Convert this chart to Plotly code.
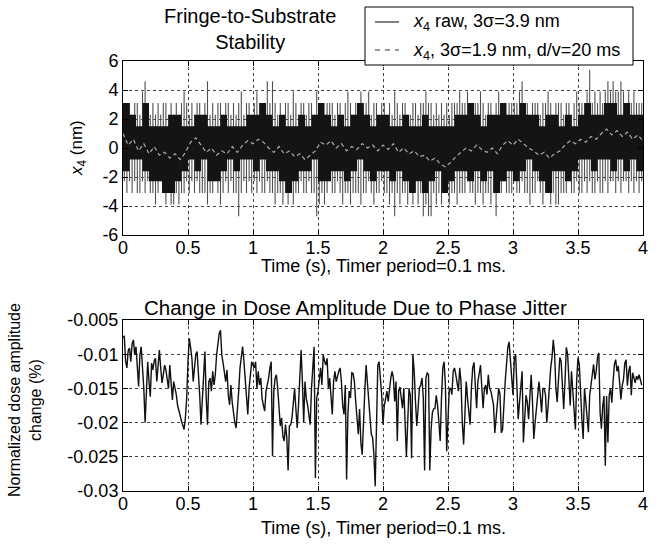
import numpy as np
import plotly.graph_objects as go

# ---------------- data ----------------
# Top panel: raw x4 trace (quantised, nm). Dense core envelope per 0.05 s bin
core_hi = [3.1,2.3,1.5,3.1,1.5,1.5,1.5,2.3,2.3,1.5,
           1.5,2.3,2.3,1.5,1.5,2.3,1.5,1.5,1.5,2.3,
           2.3,3.1,2.3,1.5,2.3,1.5,1.5,2.3,1.5,2.3,
           3.1,2.3,1.5,2.3,1.5,2.3,3.1,2.3,1.5,2.3,
           2.3,1.5,1.5,2.3,1.5,1.5,2.3,1.5,1.5,1.5,
           1.5,2.3,2.3,3.1,2.3,1.5,2.3,2.3,3.1,2.3,
           2.3,3.1,2.3,2.3,1.5,2.3,2.3,1.5,2.3,1.5,
           2.3,3.1,2.3,2.3,3.1,3.1,2.3,3.1,2.3,2.3]
core_lo = [-1.6,-0.8,-0.8,-1.6,-2.3,-2.3,-3.1,-3.1,-2.3,-1.6,
           -0.8,-1.6,-0.8,-2.3,-2.3,-1.6,-0.8,-1.6,-0.8,-0.8,
           -1.6,-0.8,-1.6,-1.6,-2.3,-3.1,-2.3,-1.6,-1.6,-0.8,
           -2.3,-2.3,-1.6,-1.6,-2.3,-1.6,-0.8,-1.6,-2.3,-1.6,
           -1.6,-2.3,-1.6,-2.3,-3.1,-2.3,-3.1,-2.3,-1.6,-3.1,
           -2.3,-1.6,-1.6,-2.3,-1.6,-2.3,-1.6,-3.1,-2.3,-1.6,
           -2.3,-1.6,-0.8,-1.6,-2.3,-3.1,-1.6,-1.6,-2.3,-1.6,
           -0.8,-0.8,-1.6,-0.8,-0.8,-1.6,-0.8,-1.6,-0.8,-1.6]

# Extremes of the raw trace per 0.02 s bin (isolated spikes)
spike_hi = [3.1,2.3,3.1,2.3,3.1,3.1,2.3,3.9,4.6,3.1,
            2.3,3.1,2.3,3.1,2.3,3.1,3.1,2.3,3.1,2.3,
            3.1,2.3,3.1,3.9,3.1,2.3,3.1,2.3,3.1,3.1,
            2.3,3.1,4.6,2.3,3.1,2.3,3.1,3.1,2.3,3.1,
            3.1,2.3,3.1,2.3,3.1,3.9,2.3,3.1,3.1,2.3,
            3.1,3.9,3.1,2.3,3.1,4.6,3.1,4.6,3.1,2.3,
            3.1,2.3,3.1,3.1,2.3,3.9,3.1,2.3,3.1,3.1,
            2.3,3.1,3.1,2.3,3.9,3.1,3.1,2.3,3.1,3.1,
            3.1,2.3,3.1,3.1,2.3,3.1,3.9,3.1,2.3,3.1,
            3.1,3.9,3.1,3.1,3.9,2.3,3.1,3.1,2.3,3.1,
            3.1,2.3,3.1,2.3,3.9,3.1,2.3,3.1,3.1,2.3,
            2.3,3.1,3.1,2.3,3.1,3.1,3.9,3.1,3.1,2.3,
            3.1,2.3,3.1,2.3,3.1,2.3,3.1,3.1,3.1,3.9,
            3.1,3.1,3.9,3.1,2.3,3.1,3.1,3.9,3.1,2.3,
            3.1,3.1,2.3,3.1,3.9,3.1,3.1,2.3,3.1,3.1,
            3.1,3.1,3.9,4.6,3.1,3.1,2.3,3.1,3.1,3.1,
            2.3,3.1,3.1,3.9,3.1,2.3,3.1,3.1,3.1,2.3,
            3.1,3.1,2.3,3.1,3.9,3.1,3.1,3.1,3.9,5.4,
            3.1,3.9,3.1,3.9,3.1,3.9,4.6,3.9,4.6,3.9,
            3.9,4.6,3.9,3.1,3.9,3.1,3.9,3.1,3.1,3.1]
spike_lo = [-2.3,-3.1,-2.3,-3.1,-2.3,-3.1,-3.1,-2.3,-3.1,-2.3,
            -3.1,-3.1,-3.9,-3.1,-2.3,-3.1,-3.9,-3.1,-3.9,-3.9,
            -3.1,-3.9,-3.1,-3.1,-2.3,-3.1,-2.3,-3.1,-2.3,-3.1,
            -3.1,-3.1,-3.9,-3.1,-3.1,-2.3,-3.1,-3.9,-3.1,-2.3,
            -3.1,-2.3,-3.1,-3.1,-4.7,-3.1,-2.3,-3.1,-2.3,-3.1,
            -2.3,-3.1,-2.3,-3.1,-3.1,-2.3,-3.1,-3.1,-3.9,-3.1,
            -3.1,-3.9,-3.1,-3.9,-3.1,-3.9,-3.1,-3.1,-2.3,-3.1,
            -3.1,-2.3,-3.1,-3.1,-4.7,-3.9,-3.1,-3.9,-3.1,-2.3,
            -3.1,-3.1,-2.3,-3.1,-3.9,-3.1,-3.1,-3.9,-3.1,-3.1,
            -3.1,-3.9,-3.1,-3.1,-2.3,-3.1,-3.9,-3.1,-3.1,-2.3,
            -3.1,-3.1,-3.9,-3.1,-4.7,-3.1,-3.9,-3.1,-3.1,-3.9,
            -3.1,-3.9,-3.1,-3.9,-3.1,-4.7,-3.9,-4.7,-4.7,-3.1,
            -3.9,-3.1,-3.9,-3.1,-3.1,-3.9,-3.1,-3.1,-3.9,-3.1,
            -3.1,-3.1,-2.3,-3.1,-3.1,-3.9,-3.1,-3.1,-3.9,-3.1,
            -3.1,-3.9,-3.1,-4.7,-3.1,-3.1,-2.3,-3.1,-3.1,-3.1,
            -2.3,-3.1,-3.1,-2.3,-3.1,-3.1,-3.9,-3.1,-3.1,-2.3,
            -3.1,-3.9,-3.1,-3.1,-3.9,-3.1,-3.9,-3.9,-3.1,-3.1,
            -3.1,-2.3,-3.1,-3.1,-2.3,-3.1,-3.1,-2.3,-3.1,-2.3,
            -3.1,-3.1,-2.3,-3.1,-3.1,-2.3,-3.1,-2.3,-2.3,-3.1,
            -2.3,-3.1,-2.3,-2.3,-3.1,-2.3,-3.1,-2.3,-3.1,-2.3]

# Filtered x4 (d/v = 20 ms), every 0.04 s
x4_filt = [1.0,0.2,0.6,-0.2,0.3,-0.4,0.1,-0.5,-0.3,-0.7,
           -0.4,-0.8,-0.3,0.4,0.7,0.2,-0.3,0.0,-0.5,-0.2,
           -0.4,0.1,-0.3,0.2,0.5,0.3,0.6,0.4,0.0,-0.3,
           0.1,-0.4,-0.2,-0.6,-0.4,-0.8,-0.5,-0.2,0.4,0.2,
           0.5,0.0,0.3,-0.2,0.1,-0.1,0.3,0.0,0.2,-0.2,
           0.2,-0.1,0.3,-0.3,0.0,-0.4,-0.2,-0.6,-0.5,-0.9,
           -0.7,-1.1,-1.3,-1.0,-0.6,-0.3,0.0,-0.2,0.2,-0.1,
           -0.3,0.0,-0.4,0.2,0.5,0.2,0.6,0.3,0.0,-0.2,
           -0.5,-0.3,-0.7,-0.4,-0.2,0.2,0.5,0.3,0.6,0.4,
           0.8,0.6,1.0,1.3,0.9,1.2,0.8,1.1,0.6,0.9,
           0.5]

# Bottom panel: normalized dose amplitude change (%), every 0.01 s
dose_change = [
    -0.0075,-0.0074,-0.0110,-0.0120,-0.0095,-0.0091,-0.0111,-0.0085,-0.0079,-0.0101,
    -0.0089,-0.0120,-0.0147,-0.0101,-0.0089,-0.0120,-0.0150,-0.0200,-0.0140,-0.0111,
    -0.0140,-0.0162,-0.0113,-0.0123,-0.0110,-0.0106,-0.0140,-0.0115,-0.0094,-0.0120,
    -0.0142,-0.0130,-0.0116,-0.0123,-0.0135,-0.0150,-0.0116,-0.0140,-0.0167,-0.0140,
    -0.0150,-0.0159,-0.0175,-0.0185,-0.0190,-0.0198,-0.0205,-0.0210,-0.0193,-0.0164,
    -0.0110,-0.0077,-0.0090,-0.0106,-0.0140,-0.0116,-0.0100,-0.0096,-0.0123,-0.0160,
    -0.0203,-0.0164,-0.0135,-0.0096,-0.0164,-0.0203,-0.0140,-0.0135,-0.0154,-0.0125,
    -0.0145,-0.0130,-0.0101,-0.0085,-0.0070,-0.0065,-0.0101,-0.0113,-0.0125,-0.0140,
    -0.0123,-0.0160,-0.0174,-0.0145,-0.0170,-0.0188,-0.0200,-0.0208,-0.0185,-0.0154,
    -0.0120,-0.0106,-0.0089,-0.0110,-0.0135,-0.0170,-0.0188,-0.0150,-0.0130,-0.0111,
    -0.0116,
    -0.0120,-0.0111,-0.0150,-0.0125,-0.0145,-0.0135,-0.0165,-0.0175,-0.0183,-0.0154,
    -0.0145,-0.0135,-0.0120,-0.0111,-0.0249,-0.0154,-0.0135,-0.0130,-0.0150,-0.0183,
    -0.0205,-0.0193,-0.0220,-0.0227,-0.0203,-0.0222,-0.0270,-0.0205,-0.0203,-0.0193,
    -0.0174,-0.0150,-0.0180,-0.0208,-0.0175,-0.0130,-0.0094,-0.0140,-0.0200,-0.0140,
    -0.0165,-0.0174,-0.0188,-0.0203,-0.0150,-0.0110,-0.0089,-0.0281,-0.0164,-0.0154,
    -0.0140,-0.0120,-0.0145,-0.0101,-0.0110,-0.0116,-0.0106,-0.0150,-0.0135,-0.0160,
    -0.0188,-0.0140,-0.0125,-0.0140,-0.0130,-0.0125,-0.0120,-0.0140,-0.0175,-0.0188,
    -0.0145,-0.0283,-0.0188,-0.0154,-0.0164,-0.0127,-0.0128,-0.0140,-0.0169,-0.0200,
    -0.0217,-0.0180,-0.0230,-0.0247,-0.0188,-0.0154,-0.0116,-0.0145,-0.0169,-0.0188,
    -0.0217,-0.0222,-0.0247,-0.0293,-0.0188,-0.0116,-0.0111,-0.0130,-0.0160,-0.0203,
    -0.0175,-0.0165,-0.0154,-0.0169,-0.0150,-0.0135,-0.0125,-0.0135,-0.0169,-0.0140,
    -0.0227,-0.0154,-0.0148,-0.0165,-0.0179,-0.0150,-0.0203,-0.0250,-0.0200,-0.0150,
    -0.0160,-0.0252,-0.0100,-0.0125,-0.0170,-0.0205,-0.0179,-0.0150,-0.0145,-0.0135,
    -0.0164,-0.0270,-0.0135,-0.0127,-0.0130,-0.0270,-0.0210,-0.0185,-0.0180,-0.0179,
    -0.0160,-0.0175,-0.0200,-0.0227,-0.0164,-0.0120,-0.0111,-0.0145,-0.0242,-0.0200,
    -0.0150,-0.0150,-0.0159,-0.0125,-0.0120,-0.0130,-0.0140,-0.0154,-0.0120,-0.0140,
    -0.0200,-0.0232,-0.0188,-0.0140,-0.0164,-0.0190,-0.0203,-0.0150,-0.0120,-0.0112,
    -0.0140,-0.0179,-0.0140,-0.0125,-0.0116,-0.0148,-0.0179,-0.0150,-0.0145,-0.0159,
    -0.0130,-0.0150,-0.0154,-0.0164,-0.0174,-0.0215,-0.0190,-0.0164,-0.0150,-0.0159,
    -0.0215,-0.0210,-0.0169,-0.0140,-0.0115,-0.0090,-0.0082,-0.0111,-0.0140,-0.0160,
    -0.0108,-0.0100,-0.0146,-0.0195,-0.0171,-0.0140,-0.0125,-0.0229,-0.0200,-0.0160,
    -0.0170,-0.0195,-0.0161,-0.0130,-0.0170,-0.0224,-0.0200,-0.0180,-0.0150,-0.0140,
    -0.0160,-0.0185,-0.0150,-0.0150,-0.0160,-0.0200,-0.0176,-0.0140,-0.0120,-0.0105,
    -0.0079,-0.0100,-0.0150,-0.0170,-0.0125,-0.0105,-0.0110,-0.0150,-0.0180,-0.0140,
    -0.0090,-0.0100,-0.0140,-0.0175,-0.0125,-0.0155,-0.0190,-0.0210,-0.0137,-0.0105,
    -0.0115,-0.0160,-0.0195,-0.0224,-0.0150,-0.0170,-0.0195,-0.0214,-0.0160,-0.0145,
    -0.0130,-0.0115,-0.0137,-0.0125,-0.0105,-0.0098,-0.0185,-0.0209,-0.0176,-0.0161,
    -0.0263,-0.0161,-0.0229,-0.0160,-0.0150,-0.0171,-0.0140,-0.0115,-0.0108,-0.0125,
    -0.0117,-0.0150,-0.0166,-0.0146,-0.0137,-0.0113,-0.0108,-0.0146,-0.0125,-0.0117,
    -0.0160,-0.0127,-0.0137,-0.0142,-0.0132,-0.0137,-0.0130,-0.0137,-0.0145,
]

top_yticks = [-6, -4, -2, 0, 2, 4, 6]
bot_yticks = [-0.03, -0.025, -0.02, -0.015, -0.01, -0.005]
bot_yticktext = ["-0.03", "-0.025", "-0.02", "-0.015", "-0.01", "-0.005"]
x_ticks = [0, 0.5, 1, 1.5, 2, 2.5, 3, 3.5, 4]
x_ticktext = ["0", "0.5", "1", "1.5", "2", "2.5", "3", "3.5", "4"]

# ---------------- sample times ----------------
core_dt, spike_dt, filt_dt, dose_dt = 0.05, 0.02, 0.04, 0.01
t_core = np.arange(len(core_hi) + 1) * core_dt
t_spike = (np.arange(len(spike_hi)) + 0.5) * spike_dt
t_filt = np.arange(len(x4_filt)) * filt_dt
t_dose = np.arange(len(dose_change)) * dose_dt

# spikes as vertical segments
sx, sy = [], []
for t, lo, hi in zip(t_spike, spike_lo, spike_hi):
    sx += [t, t, None]
    sy += [lo, hi, None]

FONT = "Liberation Sans, Arial, Helvetica, sans-serif"
W, H = 660, 544
def PX(x): return x / W
def PY(y): return 1 - y / H

fig = go.Figure()
fig.add_trace(go.Scatter(x=sx, y=sy, mode="lines", line=dict(color="#4f4f4f", width=1.1),
                         xaxis="x", yaxis="y", hoverinfo="skip", showlegend=False))
fig.add_trace(go.Scatter(x=t_core, y=core_lo + [core_lo[-1]], mode="lines",
                         line=dict(color="#111", width=0, shape="hv"),
                         xaxis="x", yaxis="y", showlegend=False))
fig.add_trace(go.Scatter(x=t_core, y=core_hi + [core_hi[-1]], mode="lines",
                         line=dict(color="#111", width=0, shape="hv"),
                         fill="tonexty", fillcolor="#141414",
                         xaxis="x", yaxis="y", showlegend=False))
fig.add_trace(go.Scatter(x=t_filt, y=x4_filt, mode="lines",
                         line=dict(color="#a8a8a8", width=1.2, dash="4px,3px"),
                         xaxis="x", yaxis="y", showlegend=False))
fig.add_trace(go.Scatter(x=t_dose, y=dose_change, mode="lines",
                         line=dict(color="#111", width=1.4),
                         xaxis="x2", yaxis="y2", showlegend=False))

TICKFONT = dict(family=FONT, size=18, color="black")
axis_common = dict(showline=True, linecolor="black", linewidth=1, mirror="ticks",
                   ticks="inside", ticklen=5, tickcolor="black", automargin=False,
                   showgrid=True, gridcolor="#444", gridwidth=1, griddash="dot",
                   zeroline=False, tickfont=TICKFONT)

fig.update_layout(
    width=W, height=H, margin=dict(l=0, r=0, t=0, b=0, autoexpand=False),
    paper_bgcolor="white", plot_bgcolor="white", showlegend=False,
    font=dict(family=FONT, color="black", size=18),
    xaxis=dict(domain=[PX(123), PX(643)], anchor="y", range=[0, 4],
               tickmode="array", tickvals=x_ticks, ticktext=x_ticktext,
               ticklabelstandoff=-4, **axis_common),
    yaxis=dict(domain=[PY(235), PY(61)], anchor="x", range=[-6, 6],
               tickmode="array", tickvals=top_yticks,
               ticktext=[str(v) for v in top_yticks], **axis_common),
    xaxis2=dict(domain=[PX(123), PX(643)], anchor="y2", range=[0, 4],
                tickmode="array", tickvals=x_ticks, ticktext=x_ticktext,
                ticklabelstandoff=-4, **axis_common),
    yaxis2=dict(domain=[PY(491), PY(320)], anchor="x2", range=[-0.03, -0.005],
                tickmode="array", tickvals=bot_yticks, ticktext=bot_yticktext, **axis_common),
)

ann = []
def text(x, y, s, size=17, angle=0, xanchor="center"):
    ann.append(dict(x=PX(x), y=PY(y), xref="paper", yref="paper", text=s, showarrow=False,
                    font=dict(family=FONT, size=size, color="black"), textangle=angle,
                    xanchor=xanchor, yanchor="middle"))

text(250, 29, "Fringe-to-Substrate<br>Stability", size=20)
text(383, 266, "Time (s), Timer period=0.1 ms.", size=18)
text(383, 528, "Time (s), Timer period=0.1 ms.", size=18)
text(355, 307, "Change in Dose Amplitude Due to Phase Jitter", size=20.5)
text(78, 148, "<i>x</i><sub>4</sub> (nm)", size=17, angle=-90)
text(25, 400, "Normalized dose amplitude<br>change (%)", size=16, angle=-90)
text(411, 23, "<i>x</i><sub>4</sub> raw, 3σ=3.9 nm", size=18, xanchor="left")
text(411, 51, "<i>x</i><sub>4</sub>, 3σ=1.9 nm, d/v=20 ms", size=18, xanchor="left")
fig.update_layout(annotations=ann)

shapes = [
    dict(type="rect", xref="paper", yref="paper", x0=PX(365), x1=PX(633), y0=PY(65), y1=PY(7),
         line=dict(color="black", width=1), fillcolor="white", layer="above"),
    dict(type="line", xref="paper", yref="paper", x0=PX(375), x1=PX(399), y0=PY(22), y1=PY(22),
         line=dict(color="black", width=1)),
    dict(type="line", xref="paper", yref="paper", x0=PX(375), x1=PX(399), y0=PY(50), y1=PY(50),
         line=dict(color="#333", width=1, dash="5px,5px")),
]
fig.update_layout(shapes=shapes)

fig.write_html("out.html", config={"displayModeBar": False},
               post_script="document.body.style.margin='0';document.body.style.padding='0';"
                           "document.body.style.overflow='hidden';")
